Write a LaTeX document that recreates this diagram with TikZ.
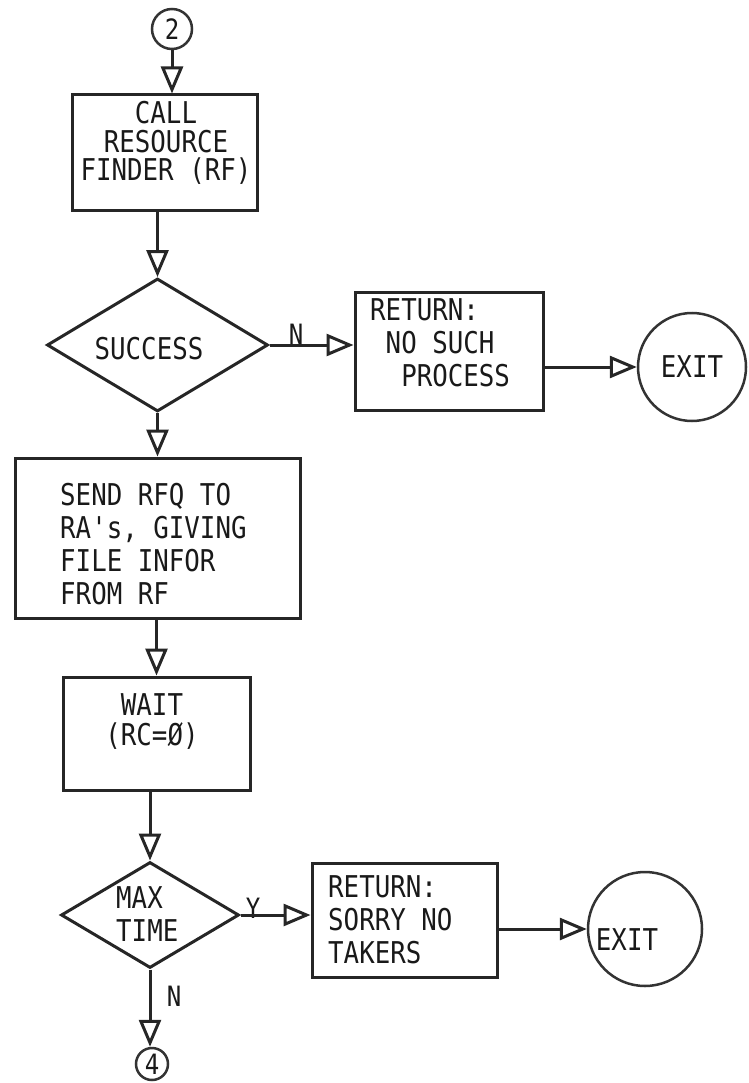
\documentclass[tikz,border=0pt]{standalone}
\usepackage{fontspec}
\setmainfont[FakeStretch=0.86, Ligatures=TeXOff]{DejaVu Sans Mono}
\usetikzlibrary{arrows.meta,shapes.geometric}
\begin{document}
\begin{tikzpicture}[x=1pt,y=-1pt,
  ink/.style={draw=black!85, line width=3pt},
  box/.style={ink, rectangle, inner sep=0pt},
  dec/.style={ink, diamond, inner sep=0pt},
  term/.style={draw=black!80, line width=2.5pt, circle, inner sep=0pt},
  txt/.style={inner sep=0pt, text=black!90, font=\fontsize{30}{33}\selectfont},
  lbl/.style={inner sep=0pt, text=black!90, font=\fontsize{28}{30}\selectfont},
  flow/.style={draw=black!85, line width=3pt, -{Triangle[open,length=27pt,width=22pt]}}]
\useasboundingbox (0,0) rectangle (748,1083);

% shapes
\node[term, minimum size=40pt] (c2) at (172,29) {};
\node[box, minimum width=185pt, minimum height=116pt] (b1) at (164.5,153) {};
\node[dec, minimum width=221pt, minimum height=133pt] (d1) at (157.5,345) {};
\node[box, minimum width=188pt, minimum height=118pt] (r1) at (449,351) {};
\node[term, minimum size=108pt] (x1) at (692,367) {};
\node[box, minimum width=285pt, minimum height=160pt] (b2) at (157.5,538) {};
\node[box, minimum width=187pt, minimum height=113pt] (b3) at (156.5,733.5) {};
\node[dec, minimum width=178pt, minimum height=106pt] (d2) at (150,915) {};
\node[box, minimum width=185pt, minimum height=114pt] (r2) at (404.5,920) {};
\node[term, minimum size=114pt] (x2) at (645,929) {};
\node[term, minimum size=32pt] (c4) at (152,1064) {};

% texts
\node[lbl] (t2) at (c2) {2};
\node[txt, align=center, font=\fontsize{30}{28.5}\selectfont] (tb1) at (166,143) {CALL\\RESOURCE\\FINDER (RF)};
\node[txt] (td1) at (149,349) {SUCCESS};
\node[txt, align=left, anchor=west] (tr1) at (370,343) {RETURN:\\\phantom{X}NO SUCH\\\phantom{XX}PROCESS};
\node[txt] (tx1) at (x1) {EXIT};
\node[txt, align=left, anchor=west] (tb2) at (60,544) {SEND RFQ TO\\RA's, GIVING\\FILE INFOR\\FROM RF};
\node[txt, align=center, font=\fontsize{30}{30}\selectfont] (tb3) at (152,722) {WAIT\\(RC=Ø)};
\node[txt, align=left, anchor=west] (td2) at (116,914) {MAX\\TIME};
\node[txt, align=left, anchor=west] (tr2) at (328,920) {RETURN:\\SORRY NO\\TAKERS};
\node[txt] (tx2) at (627,940) {EXIT};
\node[lbl] (t4) at (c4) {4};

% labels on connectors
\node[lbl] (ln1) at (296,334) {N};
\node[lbl] (ly) at (253,908) {Y};
\node[lbl] (ln2) at (174,996) {N};

% connectors
\draw[flow] (c2.south) -- (c2.south |- b1.north);
\draw[flow] (d1.north |- b1.south) -- (d1.north);
\draw[flow] (d1.east) -- (d1.east -| r1.west);
\draw[flow] (x1.west -| r1.east) -- (x1.west);
\draw[flow] (d1.south) -- (d1.south |- b2.north);
\draw[flow] (b3.north |- b2.south) -- (b3.north);
\draw[flow] (d2.north |- b3.south) -- (d2.north);
\draw[flow] (d2.east) -- (d2.east -| r2.west);
\draw[flow] (x2.west -| r2.east) -- (x2.west);
\draw[flow] (d2.south) -- (d2.south |- c4.north);
\end{tikzpicture}
\end{document}
